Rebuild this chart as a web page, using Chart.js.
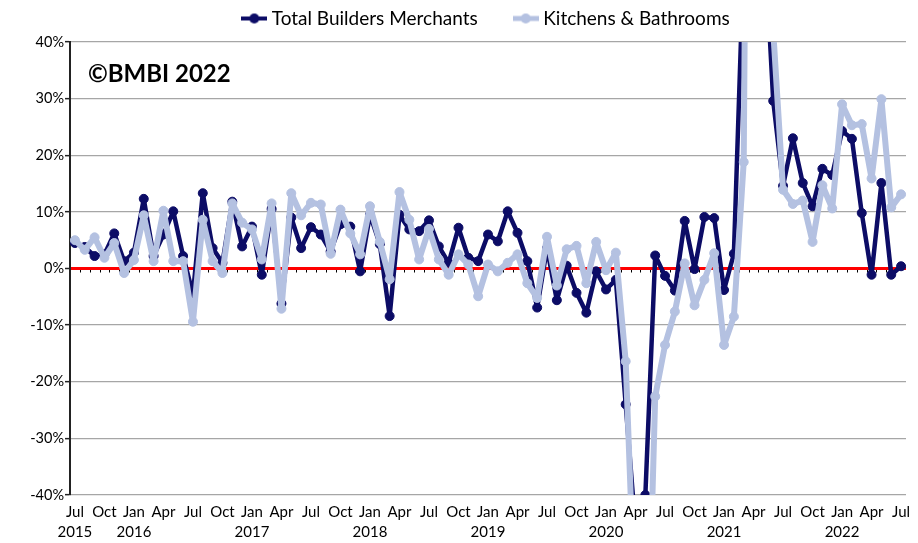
<!DOCTYPE html>
<html>
<head>
<meta charset="utf-8">
<script src="https://cdn.jsdelivr.net/npm/chart.js@4.4.1/dist/chart.umd.min.js"></script>
<style>
  html, body { margin: 0; padding: 0; background: #fff; }
  #chart { display: block; }
</style>
</head>
<body>
<canvas id="chart" width="918" height="543"></canvas>
<script>
// categories: monthly, Jul 2015 .. Jul 2022
const monthNames = ['Jan', 'Feb', 'Mar', 'Apr', 'May', 'Jun', 'Jul', 'Aug', 'Sep', 'Oct', 'Nov', 'Dec'];
const months = [];
for (let k = 6; k <= 6 + 84; k++) {
  months.push(monthNames[k % 12] + ' ' + (2015 + Math.floor(k / 12)));
}
const shownMonths = ['Jul', 'Oct', 'Jan', 'Apr'];

// year-on-year change, %
const totalBuilders = [
  4.5, 3.8, 2.2, 2.5, 6.2, 1.3, 2.8, 12.3, 2.2, 6.0, 10.1, 2.2,
  -4.5, 13.3, 3.6, 1.0, 11.8, 3.9, 7.4, -1.1, 10.5, -6.2, 9.0, 3.6,
  7.3, 6.0, 3.0, 7.8, 7.4, -0.5, 9.5, 4.3, -8.4, 9.5, 6.9, 6.6,
  8.5, 3.9, 1.0, 7.2, 1.9, 1.3, 6.0, 4.8, 10.1, 6.3, 1.3, -6.9,
  3.6, -5.6, 0.5, -4.3, -7.8, -0.5, -3.7, -2.0, -24, -46, -40, 2.3,
  -1.3, -3.9, 8.4, -0.1, 9.1, 8.9, -3.8, 2.6, 55, 250, 62, 29.6,
  14.6, 23.0, 15.1, 11.0, 17.6, 16.5, 24.3, 22.9, 9.8, -1.1, 15.1, -1.1,
  0.4
];
const kitchensBathrooms = [
  5.0, 3.3, 5.5, 1.9, 4.5, -0.8, 1.5, 9.4, 1.3, 10.2, 1.3, 1.3,
  -9.4, 8.6, 1.3, -0.8, 11.5, 8.1, 6.9, 1.6, 11.5, -7.1, 13.3, 9.4,
  11.6, 11.3, 2.6, 10.4, 6.2, 2.5, 11.0, 4.7, -1.9, 13.5, 8.6, 1.6,
  7.0, 1.6, -1.1, 2.5, 0.7, -4.9, 0.7, -0.5, 1.0, 2.5, -2.6, -5.2,
  5.6, -3.0, 3.4, 4.0, -2.6, 4.7, -0.3, 2.8, -16.4, -63, -85, -22.6,
  -13.5, -7.6, 0.9, -6.5, -2.0, 2.7, -13.5, -8.5, 18.8, 250, 150, 42,
  13.9, 11.4, 12.0, 4.7, 14.7, 10.6, 29.0, 25.3, 25.5, 15.9, 29.9, 10.8,
  13.1
];
const yTicks = { min: -40, max: 40, step: 10 };

const navy = '#0C0C66';
const lilac = '#B4C1E1';
const fontFamily = 'Lato, "Open Sans", sans-serif';

// legend icon: short line with a marker in the middle
const legendIcon = (color, lineW) => {
  const c = document.createElement('canvas');
  c.width = 26;
  c.height = 12;
  const g = c.getContext('2d');
  g.strokeStyle = color;
  g.lineWidth = lineW;
  g.beginPath();
  g.moveTo(0, 6);
  g.lineTo(26, 6);
  g.stroke();
  g.fillStyle = color;
  g.beginPath();
  g.arc(13, 6, 5, 0, Math.PI * 2);
  g.fill();
  return c;
};
const icons = [legendIcon(navy, 4), legendIcon(lilac, 5)];

// keep the legend band a fixed height so the plot starts where it should
const legendBand = {
  id: 'legendBand',
  beforeUpdate(chart) {
    const lg = chart.legend;
    if (lg && !lg.__fixed) {
      const fit = lg.fit.bind(lg);
      lg.fit = () => {
        fit();
        lg.height = 73;
      };
      lg.__fixed = true;
    }
  },
};

const copyrightLabel = {
  id: 'copyrightLabel',
  afterDraw(chart) {
    const { ctx, chartArea } = chart;
    ctx.save();
    ctx.font = 'bold 24px ' + fontFamily;
    ctx.fillStyle = '#000';
    ctx.textBaseline = 'middle';
    ctx.fillText('\u00A9BMBI 2022', chartArea.left + 18, chartArea.top + 32);
    ctx.restore();
  },
};

// small tick marks hanging below the zero line
const zeroTicks = {
  id: 'zeroTicks',
  beforeDatasetsDraw(chart) {
    const { ctx, scales } = chart;
    const x = scales.x;
    const y0 = scales.y.getPixelForValue(0);
    const step = (x.right - x.left) / months.length;
    ctx.save();
    ctx.strokeStyle = '#000';
    ctx.lineWidth = 1;
    ctx.beginPath();
    for (let i = 1; i < months.length; i++) {
      const px = Math.round(x.left + i * step) + 0.5;
      ctx.moveTo(px, y0 + 1.5);
      ctx.lineTo(px, y0 + 4);
    }
    ctx.stroke();
    ctx.restore();
  },
};

new Chart(document.getElementById('chart'), {
  type: 'line',
  data: {
    labels: months,
    datasets: [
      {
        label: 'Total Builders Merchants',
        data: totalBuilders,
        borderColor: navy,
        backgroundColor: navy,
        borderWidth: 4.5,
        borderJoinStyle: 'round',
        borderCapStyle: 'round',
        pointRadius: 4.5,
        pointBorderWidth: 1,
        tension: 0,
        order: 2,
      },
      {
        label: 'Kitchens & Bathrooms',
        data: kitchensBathrooms,
        borderColor: lilac,
        backgroundColor: lilac,
        borderWidth: 6,
        borderJoinStyle: 'round',
        borderCapStyle: 'round',
        pointRadius: 4.5,
        pointBorderWidth: 1,
        tension: 0,
        order: 1,
      },
    ],
  },
  options: {
    responsive: false,
    animation: false,
    devicePixelRatio: 1,
    layout: { padding: { top: -31, right: 12, left: 0, bottom: 0 } },
    plugins: {
      tooltip: { enabled: false },
      legend: {
        position: 'top',
        fullSize: false,
        labels: {
          usePointStyle: true,
          pointStyleWidth: 16,
          padding: 40,
          color: '#000',
          font: { family: fontFamily, size: 19 },
          sort: (a, b) => a.datasetIndex - b.datasetIndex,
          generateLabels(chart) {
            const items = Chart.defaults.plugins.legend.labels.generateLabels(chart);
            items.forEach((item) => {
              item.pointStyle = icons[item.datasetIndex];
            });
            return items;
          },
        },
      },
    },
    scales: {
      x: {
        offset: true,
        grid: { display: false, drawTicks: false },
        border: { display: false },
        afterFit(scale) {
          scale.height = 48;
        },
        ticks: {
          autoSkip: false,
          maxRotation: 0,
          minRotation: 0,
          padding: 7,
          color: '#000',
          font: { family: fontFamily, size: 15, lineHeight: 1.35 },
          callback(value, index) {
            const [m, yr] = months[index].split(' ');
            if (!shownMonths.includes(m)) return '';
            if (index === 0 || m === 'Jan') return [m, yr];
            return m;
          },
        },
      },
      y: {
        min: yTicks.min,
        max: yTicks.max,
        afterFit(scale) {
          scale.width = 70;
        },
        grid: {
          color: (ctx) => (ctx.tick && ctx.tick.value === 0 ? '#FF0000' : '#A6A6A6'),
          lineWidth: (ctx) => (ctx.tick && ctx.tick.value === 0 ? 3 : 1.3),
          tickColor: '#222',
          tickWidth: 1.5,
          tickLength: 5,
        },
        border: { display: true, color: '#222', width: 2 },
        ticks: {
          stepSize: yTicks.step,
          padding: 1,
          color: '#000',
          font: { family: fontFamily, size: 14.5 },
          callback: (v) => v + '%',
        },
      },
    },
  },
  plugins: [legendBand, zeroTicks, copyrightLabel],
});
</script>
</body>
</html>
